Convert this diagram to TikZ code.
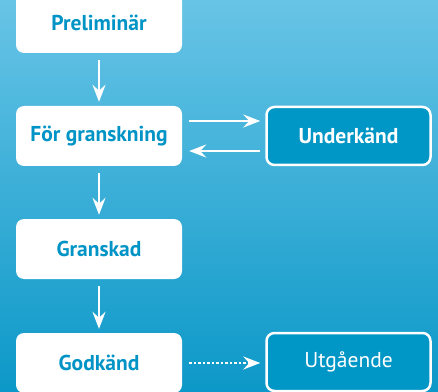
\documentclass[tikz,border=0pt]{standalone}
\usepackage{fontspec}
\setmainfont{PT Sans}
\usepackage{tikz}
\usetikzlibrary{positioning,arrows.meta}
\definecolor{colortop}   {RGB}{104,196,230}
\definecolor{colorbottom}{RGB}{12 ,152,200}
\definecolor{colorbox}   {RGB}{0  ,150,197}
\definecolor{colortext}  {RGB}{0  ,148,198}

\begin{document}
\begin{tikzpicture}[
    x=1pt, y=1pt,
    font={\fontsize{21.5}{24}\selectfont},
    base/.style={rounded corners=8pt,minimum width=166pt,minimum height=60pt,align=center,rectangle},
    state/.style={base,fill=white,text=colortext,font={\fontsize{21.5}{24}\selectfont\bfseries}},
    final/.style={base,fill=colorbox,draw=white,line width=2.5pt,text=white,minimum width=164pt,minimum height=58pt},
    flow/.style={white,line width=2.5pt,-{Stealth[length=17pt,width=13pt,inset=6pt]}},
]

    % Background
    \shade[top color=colortop,bottom color=colorbottom] (0,0) rectangle (438,391);
    \useasboundingbox (0,0) rectangle (438,391);

    % States
    \node[state] at (99, 368) (prelim) {Preliminär};
    \node[state] at (99, 255) (review) {För granskning};
    \node[state] at (99, 142) (checked) {Granskad};
    \node[state] at (99,  28) (approved) {Godkänd};

    % Outcomes
    \node[final] at (348.5, 255) (rejected) {\bfseries Underkänd};
    \node[final] at (348.5,  29) (retired) {Utgående};

    % Flow
    \draw[flow] ([yshift=-7pt]prelim.south) -- ([yshift=4pt]review.north);
    \draw[flow] ([yshift=-7pt]review.south) -- ([yshift=4pt]checked.north);
    \draw[flow] ([yshift=-7pt]checked.south) -- ([yshift=4pt]approved.north);
    \draw[flow] ([xshift=7pt,yshift=15pt]review.east) -- ([xshift=-5pt,yshift=15pt]rejected.west);
    \draw[flow] ([xshift=-5pt,yshift=-15pt]rejected.west) -- ([xshift=7pt,yshift=-15pt]review.east);
    \draw[flow,dash pattern=on 2.5pt off 2pt] ([xshift=7pt]approved.east) -- ([xshift=-5pt,yshift=-1pt]retired.west);

\end{tikzpicture}
\end{document}
